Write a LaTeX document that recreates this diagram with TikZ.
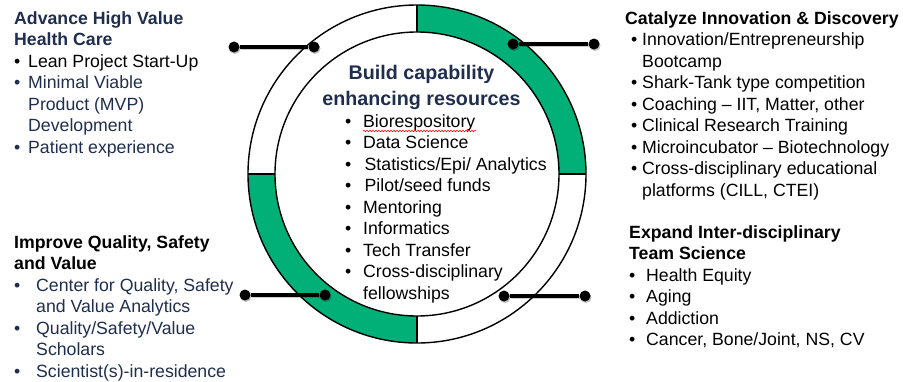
\documentclass[tikz,border=0pt]{standalone}
\usepackage{fontspec}
\setmainfont{Liberation Sans}
\usetikzlibrary{decorations.pathmorphing}
\definecolor{ringgreen}{RGB}{0,176,118}
\definecolor{navy}{RGB}{31,46,78}
\newcommand{\itm}[3]{\makebox[#2][l]{\hspace{#1}•}#3}
\newcommand{\cnt}[2]{\makebox[#1][l]{}#2}
\tikzset{
  dotnode/.style={circle,fill=black,inner sep=0pt,minimum size=11pt,
    preaction={fill=black,opacity=.25,transform canvas={shift={(1pt,-1.5pt)}}}},
  link/.style={line width=3.2pt,
    preaction={draw=black,line width=3.2pt,opacity=.2,transform canvas={shift={(1pt,-1.5pt)}}}},
  ringline/.style={line width=1.4pt},
  block/.style={anchor=base west,inner sep=0pt,font=\fontsize{17.7}{21.5}\selectfont},
}
\begin{document}
\begin{tikzpicture}[x=1pt,y=1pt]
\useasboundingbox (0,0) rectangle (903,-381);
\coordinate (c) at (417,-174);
% ring
\fill[ringgreen] (c) ++(0:169) arc (0:90:169) -- ++(0,-27) arc (90:0:142) -- cycle;
\fill[ringgreen] (c) ++(180:169) arc (180:270:169) -- ++(0,27) arc (270:180:142) -- cycle;
\draw[ringline] (c) circle (169);
\draw[ringline] (c) circle (142);
\draw[ringline] (c) ++(0,169) -- ++(0,-27);
\draw[ringline] (c) ++(0,-169) -- ++(0,27);
\draw[ringline] (c) ++(169,0) -- ++(-27,0);
\draw[ringline] (c) ++(-169,0) -- ++(27,0);
% center text
\node[anchor=base,inner sep=0pt,align=center,text=navy,
  font=\fontsize{19.7}{26}\selectfont\bfseries] (title) at (421.5,-105)
  {Build capability\\enhancing resources};
\node[block] (center) at (345,-127) {\begin{tabular}[t]{@{}l@{}}
\itm{0pt}{18pt}{Biorespository}\\
\itm{0pt}{18pt}{Data Science}\\
\itm{0pt}{19.5pt}{Statistics/Epi/ Analytics}\\
\itm{0pt}{19.5pt}{Pilot/seed funds}\\
\itm{0pt}{18pt}{Mentoring}\\
\itm{0pt}{18pt}{Informatics}\\
\itm{0pt}{18pt}{Tech Transfer}\\
\itm{0pt}{18pt}{Cross-disciplinary}\\
\cnt{18pt}{fellowships}
\end{tabular}};
\draw[red,line width=0.6pt,decorate,decoration={snake,segment length=3pt,amplitude=0.7pt}]
  (363,-131) -- (476,-131);
% top-left block
\node[block] (tl) at (14,-24) {\begin{tabular}[t]{@{}l@{}}
\textcolor{navy}{\bfseries Advance High Value}\\
\textcolor{navy}{\bfseries Health Care}\\
\itm{0pt}{14pt}{Lean Project Start-Up}\\
\color{navy}\itm{0pt}{14pt}{Minimal Viable}\\
\color{navy}\cnt{14pt}{Product (MVP)}\\
\color{navy}\cnt{14pt}{Development}\\
\color{navy}\itm{0pt}{14pt}{Patient experience}
\end{tabular}};
% bottom-left block
\node[block] (bl) at (14,-248) {\begin{tabular}[t]{@{}l@{}}
{\bfseries Improve Quality, Safety}\\
{\bfseries and Value}\\
\color{navy}\itm{0pt}{22pt}{Center for Quality, Safety}\\
\color{navy}\cnt{22pt}{and Value Analytics}\\
\color{navy}\itm{0pt}{22pt}{Quality/Safety/Value}\\
\color{navy}\cnt{22pt}{Scholars}\\
\color{navy}\itm{0pt}{22pt}{Scientist(s)-in-residence}
\end{tabular}};
% top-right block
\node[block] (tr) at (625,-24) {\begin{tabular}[t]{@{}l@{}}
{\bfseries Catalyze Innovation \& Discovery}\\
\itm{6pt}{17pt}{Innovation/Entrepreneurship}\\
\cnt{17pt}{Bootcamp}\\
\itm{6pt}{17pt}{Shark-Tank type competition}\\
\itm{6pt}{17pt}{Coaching – IIT, Matter, other}\\
\itm{6pt}{17pt}{Clinical Research Training}\\
\itm{6pt}{17pt}{Microincubator – Biotechnology}\\
\itm{6pt}{17pt}{Cross-disciplinary educational}\\
\cnt{17pt}{platforms (CILL, CTEI)}
\end{tabular}};
% bottom-right block
\node[block] (br) at (629,-238) {\begin{tabular}[t]{@{}l@{}}
{\bfseries Expand Inter-disciplinary}\\
{\bfseries Team Science}\\
\itm{0pt}{17pt}{Health Equity}\\
\itm{0pt}{17pt}{Aging}\\
\itm{0pt}{17pt}{Addiction}\\
\itm{0pt}{17pt}{Cancer, Bone/Joint, NS, CV}
\end{tabular}};
% connectors
\node[dotnode] (tla) at (234,-47) {};
\node[dotnode] (tlb) at (314,-47) {};
\node[dotnode] (tra) at (513,-44) {};
\node[dotnode] (trb) at (594,-44) {};
\node[dotnode] (bla) at (245,-295) {};
\node[dotnode] (blb) at (325,-295) {};
\node[dotnode] (bra) at (504,-296) {};
\node[dotnode] (brb) at (585,-296) {};
\draw[link] (tla) -- (tlb);
\draw[link] (tra) -- (trb);
\draw[link] (bla) -- (blb);
\draw[link] (bra) -- (brb);
\end{tikzpicture}
\end{document}
